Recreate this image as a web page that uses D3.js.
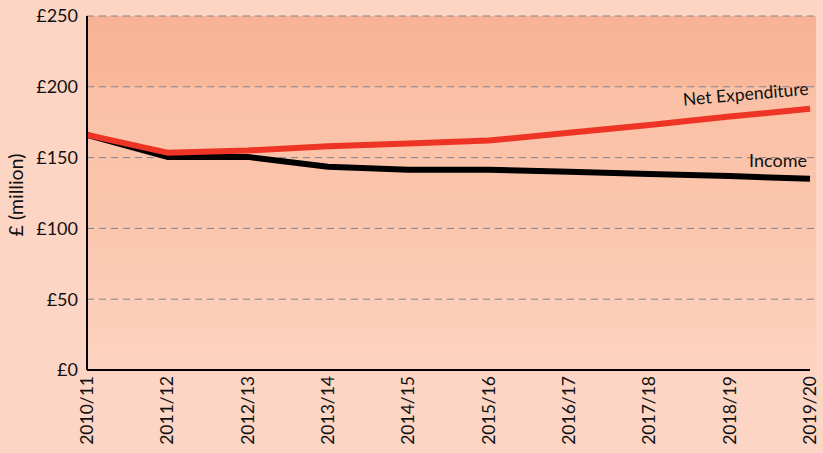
<!DOCTYPE html>
<html>
<head>
<meta charset="utf-8">
<script src="https://cdn.jsdelivr.net/npm/d3@7"></script>
<style>
  body { margin: 0; background: #fdd5c4; }
  svg { display: block; font-family: Lato, "Open Sans", sans-serif; }
</style>
</head>
<body>
<svg id="chart" width="823" height="453"></svg>
<script>
const years = ["2010/11", "2011/12", "2012/13", "2013/14", "2014/15",
               "2015/16", "2016/17", "2017/18", "2018/19", "2019/20"];
const netExpenditure = [166, 153.5, 155, 158, 160, 162, 167.5, 173, 179, 184.5];
const income = [166, 150.5, 150.5, 143.5, 141.5, 141.5, 140, 138.5, 137, 135];
const yTicks = [0, 50, 100, 150, 200, 250];

const margin = {top: 16, right: 6, bottom: 83, left: 87};
const width = 823 - margin.left - margin.right;
const height = 453 - margin.top - margin.bottom;

const svg = d3.select("#chart");
const g = svg.append("g").attr("transform", `translate(${margin.left},${margin.top})`);

const x = d3.scalePoint().domain(years).range([0, width - 7]);
const y = d3.scaleLinear().domain([0, 250]).range([height, 0]);

// background shading
const defs = svg.append("defs");
const grad = defs.append("linearGradient")
  .attr("id", "bg").attr("x1", 0).attr("y1", 0).attr("x2", 0).attr("y2", 1);
grad.append("stop").attr("offset", "0%").attr("stop-color", "#f8b396");
grad.append("stop").attr("offset", "20%").attr("stop-color", "#f9b89b");
grad.append("stop").attr("offset", "20%").attr("stop-color", "#fac0a5");
grad.append("stop").attr("offset", "60%").attr("stop-color", "#fbc6ae");
grad.append("stop").attr("offset", "100%").attr("stop-color", "#fdd3c1");

g.append("rect")
  .attr("x", 0).attr("y", 0)
  .attr("width", width - 1).attr("height", height)
  .attr("fill", "url(#bg)");

// gridlines
g.selectAll(".grid")
  .data(yTicks.filter(d => d > 0))
  .join("line")
  .attr("x1", 0).attr("x2", width)
  .attr("y1", d => y(d)).attr("y2", d => y(d))
  .attr("stroke", "#7f8590")
  .attr("stroke-width", 1)
  .attr("stroke-dasharray", "7,5");

// y axis labels
g.selectAll(".ylab")
  .data(yTicks)
  .join("text")
  .attr("x", -9).attr("y", d => y(d))
  .attr("dy", "0.35em")
  .attr("text-anchor", "end")
  .style("font-size", "18px")
  .attr("fill", "#111")
  .text(d => `£${d}`);

g.append("text")
  .attr("transform", `translate(${-64},${179}) rotate(-90)`)
  .attr("text-anchor", "middle")
  .style("font-size", "19.5px")
  .attr("fill", "#111")
  .text("£ (million)");

// x labels
g.selectAll(".xlab")
  .data(years)
  .join("text")
  .attr("transform", d => `translate(${x(d) + 6},${height + 6}) rotate(-90)`)
  .attr("text-anchor", "end")
  .style("font-size", "17.5px")
  .attr("fill", "#111")
  .text(d => d);

// lines
const line = d3.line()
  .x((d, i) => x(years[i]))
  .y(d => y(d));

g.append("path")
  .datum(income)
  .attr("fill", "none")
  .attr("stroke", "#000")
  .attr("stroke-width", 6)
  .attr("stroke-linejoin", "round")
  .attr("d", line);

g.append("path")
  .datum(netExpenditure)
  .attr("fill", "none")
  .attr("stroke", "#ee3424")
  .attr("stroke-width", 6)
  .attr("stroke-linejoin", "round")
  .attr("d", line);

// axes lines
g.append("line")
  .attr("x1", 0).attr("x2", 0).attr("y1", 0).attr("y2", height)
  .attr("stroke", "#000").attr("stroke-width", 2);
g.append("line")
  .attr("x1", 0).attr("x2", x(years[years.length - 1])).attr("y1", height).attr("y2", height)
  .attr("stroke", "#000").attr("stroke-width", 2);

// series labels
g.append("text")
  .attr("transform", `translate(${x("2019/20") - 1},${y(184.5) - 14}) rotate(-5)`)
  .attr("text-anchor", "end")
  .style("font-size", "17.5px")
  .attr("fill", "#111")
  .text("Net Expenditure");

g.append("text")
  .attr("x", x("2019/20") - 3).attr("y", y(135) - 12)
  .attr("text-anchor", "end")
  .style("font-size", "18px")
  .attr("fill", "#111")
  .text("Income");
</script>
</body>
</html>
